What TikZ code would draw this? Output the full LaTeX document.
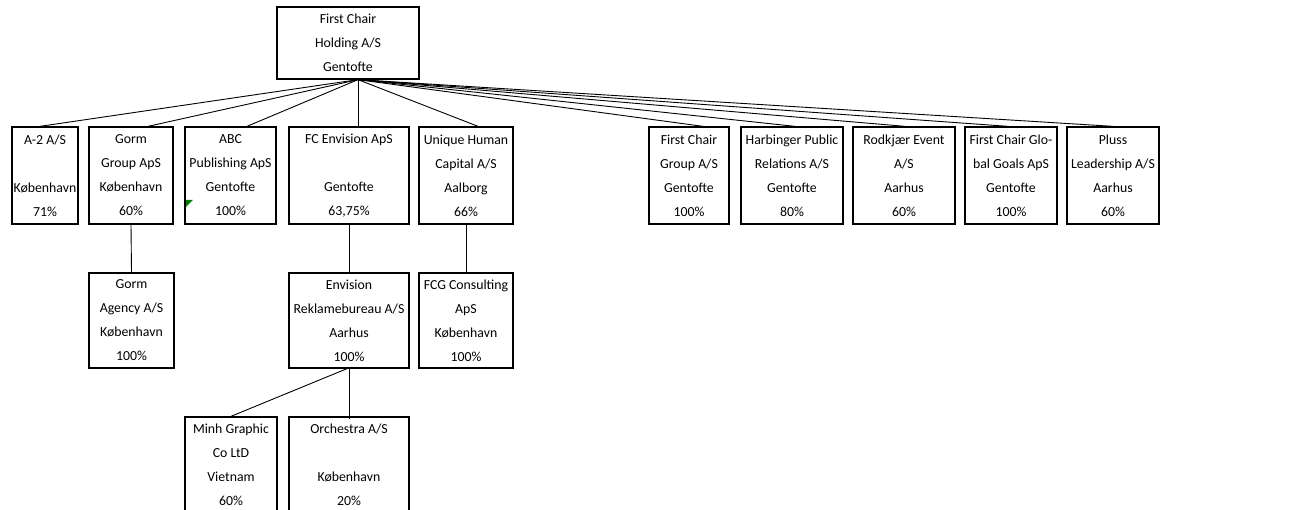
\documentclass[tikz,border=0pt]{standalone}
\usepackage{fontspec}
\setmainfont{Carlito}
\usetikzlibrary{shadows}

\begin{document}
\begin{tikzpicture}[x=1pt,y=-1pt]
	\tikzstyle{every node}+=[inner sep=0pt, font=\fontsize{13.8pt}{24pt}\selectfont]
	\tikzstyle{firm}=[draw, fill=white, line width=1.3pt, align=center, minimum height=97pt,
		drop shadow={shadow xshift=1pt, shadow yshift=-1pt, fill=black, opacity=1}]
	\tikzstyle{link}=[line width=0.9pt]

	\useasboundingbox (0,0) rectangle (1294,510);

	\node[firm, minimum width=142pt, minimum height=72pt] (root) at (348,43) {First Chair\\Holding A/S\\Gentofte};
	\coordinate (hub) at ([xshift=10pt]root.south);

	\node[firm, minimum width=66pt] (a2) at (45,175.5) {A-2 A/S\\~\\København\\71\%};
	\node[firm, minimum width=84pt] (gormgrp) at (131,175.5) {Gorm\\Group ApS\\København\\60\%};
	\node[firm, minimum width=91pt] (abc) at (230.5,175.5) {ABC\\Publishing ApS\\Gentofte\\100\%};
	\node[firm, minimum width=120pt] (fcenv) at (349,175.5) {FC Envision ApS\\~\\Gentofte\\63,75\%};
	\node[firm, minimum width=94pt] (unique) at (466,175.5) {Unique Human\\Capital A/S\\Aalborg\\66\%};
	\node[firm, minimum width=80pt] (fcgroup) at (689,175.5) {First Chair\\Group A/S\\Gentofte\\100\%};
	\node[firm, minimum width=102pt] (harb) at (792,175.5) {Harbinger Public\\Relations A/S\\Gentofte\\80\%};
	\node[firm, minimum width=102pt] (rodk) at (904,175.5) {Rodkjær Event\\A/S\\Aarhus\\60\%};
	\node[firm, minimum width=92pt] (global) at (1011,175.5) {First Chair Glo-\\bal Goals ApS\\Gentofte\\100\%};
	\node[firm, minimum width=92pt] (pluss) at (1113,175.5) {Pluss\\Leadership A/S\\Aarhus\\60\%};

	\fill [green!50!black] (186,200) -- (193,200) -- (186,207) -- cycle;

	\node[firm, minimum width=85pt, minimum height=95pt] (gormag) at (131.5,320.5) {Gorm\\Agency A/S\\København\\100\%};
	\node[firm, minimum width=120pt, minimum height=95pt] (envrek) at (349,320.5) {Envision\\Reklamebureau A/S\\Aarhus\\100\%};
	\node[firm, minimum width=94pt, minimum height=95pt] (fcg) at (466,320.5) {FCG Consulting\\ApS\\København\\100\%};

	\node[firm, minimum width=92pt, minimum height=95pt] (minh) at (231,464.5) {Minh Graphic\\Co LtD\\Vietnam\\60\%};
	\node[firm, minimum width=120pt, minimum height=95pt] (orch) at (349,464.5) {Orchestra A/S\\~\\København\\20\%};

	\foreach \n/\dx in {a2/-5, gormgrp/17, abc/16.5, fcenv/9, unique/12, fcgroup/14, harb/3, rodk/1, global/-3, pluss/0}
		\draw [link] (hub) -- ([xshift=\dx pt]\n.north);

	\draw [link] (gormgrp.south) -- (gormag.north);
	\draw [link] (fcenv.south) -- (envrek.north);
	\draw [link] (unique.south) -- (fcg.north);
	\draw [link] ([xshift=-2pt]envrek.south) -- (minh.north);
	\draw [link] (envrek.south) -- ([yshift=-3pt]orch.north);
\end{tikzpicture}
\end{document}
